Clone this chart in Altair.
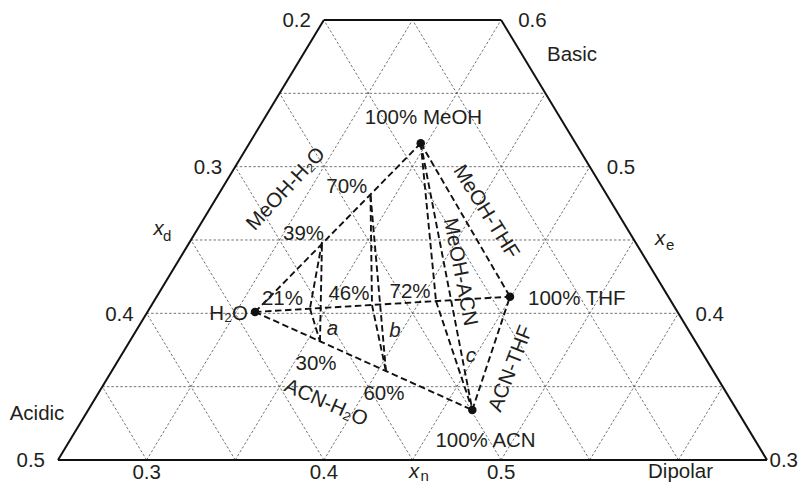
import altair as alt
import pandas as pd

FONT = "Liberation Sans"
INK = "#231f20"
FS = 20.5

# ---------------- data (lattice units: u across the Dipolar base 0..8, v upward 0..6) ----------------
solvents = ["H2O", "MeOH", "THF", "ACN"]
solvent_u = [2.223, 4.093, 5.100, 4.675]
solvent_v = [2.018, 4.319, 2.227, 0.682]

mixtures = ["39% MeOH", "70% MeOH", "21% THF", "46% THF", "72% THF", "30% ACN", "60% ACN"]
mixture_u = [2.979, 3.526, 2.843, 3.543, 4.265, 2.956, 3.701]
mixture_v = [2.973, 3.614, 2.066, 2.114, 2.168, 1.616, 1.207]

binary_lines = [("H2O", "MeOH"), ("H2O", "THF"), ("H2O", "ACN"),
                ("MeOH", "THF"), ("MeOH", "ACN"), ("ACN", "THF")]
triangles = [["39% MeOH", "21% THF", "30% ACN"],
             ["70% MeOH", "46% THF", "60% ACN"],
             ["MeOH", "72% THF", "ACN"]]

xn_ticks = [0.3, 0.4, 0.5]          # bottom edge
xd_ticks = [0.5, 0.4, 0.3, 0.2]     # left edge
xe_ticks = [0.4, 0.5, 0.6]          # right edge (upper ticks)
xe_corner = ["0.3"]                 # right edge, bottom corner

# point labels
pt_labels = ["100% MeOH", "100% ACN", "39%", "70%", "21%", "46%", "72%", "30%", "60%",
             "Basic", "Acidic", "Dipolar"]
pt_label_u = [4.124, 4.824, 2.770, 3.258, 2.533, 3.283, 3.972, 2.911, 3.678, 5.800, -0.237, 7.024]
pt_label_v = [4.582, 0.184, 3.000, 3.637, 2.114, 2.182, 2.205, 1.227, 0.818, 5.445, 0.545, -0.240]

thf_label = ["100% THF"]
thf_label_u = [5.303]
thf_label_v = [2.120]

h2o_label = ["H\u2082O"]
h2o_label_u = [2.144]
h2o_label_v = [1.909]

region_labels = ["a", "b", "c"]
region_u = [3.097, 3.803, 4.660]
region_v = [1.705, 1.684, 1.340]

pair_labels = ["MeOH-H\u2082O", "MeOH-THF", "MeOH-ACN", "ACN-THF", "ACN-H\u2082O"]
pair_u = [2.573, 4.829, 4.536, 5.111, 3.024]
pair_v = [3.695, 3.382, 2.564, 1.244, 0.777]
pair_angle = [313, 58, 79, 291, 24]

axis_sym = ["x", "x", "x"]
axis_sym_u = [1.134, 6.793, 4.017]
axis_sym_v = [3.068, 2.932, -0.245]
axis_sub = ["d", "e", "n"]
axis_sub_u = [1.185, 6.860, 4.090]
axis_sub_v = [2.991, 2.864, -0.285]

# ---------------- build tables ----------------
pos = {n: (u, v) for n, u, v in zip(solvents, solvent_u, solvent_v)}
pos.update({n: (u, v) for n, u, v in zip(mixtures, mixture_u, mixture_v)})

seg_rows = []
seen = set()


def add_seg(a, b):
    key = frozenset((a, b))
    if key in seen:
        return
    seen.add(key)
    seg_rows.append(dict(u=pos[a][0], v=pos[a][1], u2=pos[b][0], v2=pos[b][1]))


for a, b in binary_lines:
    add_seg(a, b)
for tri in triangles:
    for i in range(3):
        add_seg(tri[i], tri[(i + 1) % 3])
seg_df = pd.DataFrame(seg_rows)

# lattice grid of the truncated triangle (base 8 units, 6 rows)
grid_rows = []
for k in range(1, 6):
    grid_rows.append(dict(u=k / 2, v=k, u2=8 - k / 2, v2=k))
for k in range(1, 8):
    h = min(6, 8 - k)
    grid_rows.append(dict(u=k, v=0, u2=k + h / 2, v2=h))
    h = min(6, k)
    grid_rows.append(dict(u=k, v=0, u2=k - h / 2, v2=h))
grid_df = pd.DataFrame(grid_rows)

corners = [(0, 0), (8, 0), (5, 6), (3, 6)]
frame_df = pd.DataFrame([dict(u=corners[i][0], v=corners[i][1],
                              u2=corners[(i + 1) % 4][0], v2=corners[(i + 1) % 4][1])
                         for i in range(4)])

pts_df = pd.DataFrame(dict(name=solvents, u=solvent_u, v=solvent_v))

left_df = pd.DataFrame(dict(t=[f"{x:.1f}" for x in xd_ticks],
                            v=[(0.5 - x) / 0.05 for x in xd_ticks]))
left_df["u"] = left_df["v"] / 2
right_df = pd.DataFrame(dict(t=[f"{x:.1f}" for x in xe_ticks],
                             v=[(x - 0.3) / 0.05 for x in xe_ticks]))
right_df["u"] = 8 - right_df["v"] / 2
corner_df = pd.DataFrame(dict(t=xe_corner, u=[8.0], v=[0.0]))
bottom_df = pd.DataFrame(dict(t=[f"{x:.1f}" for x in xn_ticks],
                              u=[(x - 0.25) / 0.05 for x in xn_ticks], v=[0.0] * 3))

# ---------------- chart ----------------
W, H = 792, 475
xs = alt.Scale(domain=[-0.5642, -0.5642 + W / 88.625], nice=False, zero=False)
ys = alt.Scale(domain=[6.1636 - H / 73.333, 6.1636], nice=False, zero=False)
X = alt.X("u:Q", scale=xs, axis=None)
Y = alt.Y("v:Q", scale=ys, axis=None)


def rules(df, **kw):
    return alt.Chart(df).mark_rule(**kw).encode(x=X, y=Y, x2="u2:Q", y2="v2:Q")


def texts(t, u, v, **kw):
    df = pd.DataFrame(dict(t=t, u=u, v=v))
    opts = dict(font=FONT, fontSize=FS, color=INK)
    opts.update(kw)
    return alt.Chart(df).mark_text(**opts).encode(x=X, y=Y, text="t:N")


def tick_text(df, **kw):
    opts = dict(font=FONT, fontSize=FS, color=INK, baseline="alphabetic")
    opts.update(kw)
    return alt.Chart(df).mark_text(**opts).encode(x=X, y=Y, text="t:N")


grid = rules(grid_df, color="#444444", strokeWidth=0.75, strokeDash=[2.5, 2])
frame = rules(frame_df, color="#111111", strokeWidth=2)
segs = rules(seg_df, color="#111111", strokeWidth=1.9, strokeDash=[6.5, 3.5])
dots = alt.Chart(pts_df).mark_circle(size=72, color="#111111", opacity=1).encode(x=X, y=Y)

left_lab = tick_text(left_df, align="right", dx=-13, dy=7.5)
right_lab = tick_text(right_df, align="left", dx=17, dy=7.5)
corner_lab = tick_text(corner_df, align="right", dx=31, dy=7.5)
bottom_lab = tick_text(bottom_df, align="center", dy=19)

lab_c = texts(pt_labels, pt_label_u, pt_label_v, align="center", baseline="alphabetic")
lab_thf = texts(thf_label, thf_label_u, thf_label_v, align="left", baseline="alphabetic")
lab_h2o = texts(h2o_label, h2o_label_u, h2o_label_v, align="right", baseline="alphabetic")
lab_reg = texts(region_labels, region_u, region_v, align="center", baseline="alphabetic",
                fontStyle="italic")
sym = texts(axis_sym, axis_sym_u, axis_sym_v, align="center", baseline="alphabetic",
            fontStyle="italic")
sub = texts(axis_sub, axis_sub_u, axis_sub_v, align="left", baseline="alphabetic", fontSize=15)

pair_df = pd.DataFrame(dict(t=pair_labels, u=pair_u, v=pair_v, ang=pair_angle))
pairs = alt.Chart(pair_df).mark_text(font=FONT, fontSize=FS, color=INK, align="center",
                                     baseline="middle").encode(
    x=X, y=Y, text="t:N", angle=alt.Angle("ang:Q", scale=None))

chart = alt.layer(grid, frame, segs, dots, left_lab, right_lab, corner_lab, bottom_lab, lab_c,
                  lab_thf, lab_h2o, lab_reg, sym, sub, pairs).properties(
    width=W, height=H, autosize=alt.AutoSizeParams(type="none"), padding=0,
    background="white"
).configure_view(stroke=None)

chart.save("out.html", embed_options={"renderer": "svg", "actions": False})
